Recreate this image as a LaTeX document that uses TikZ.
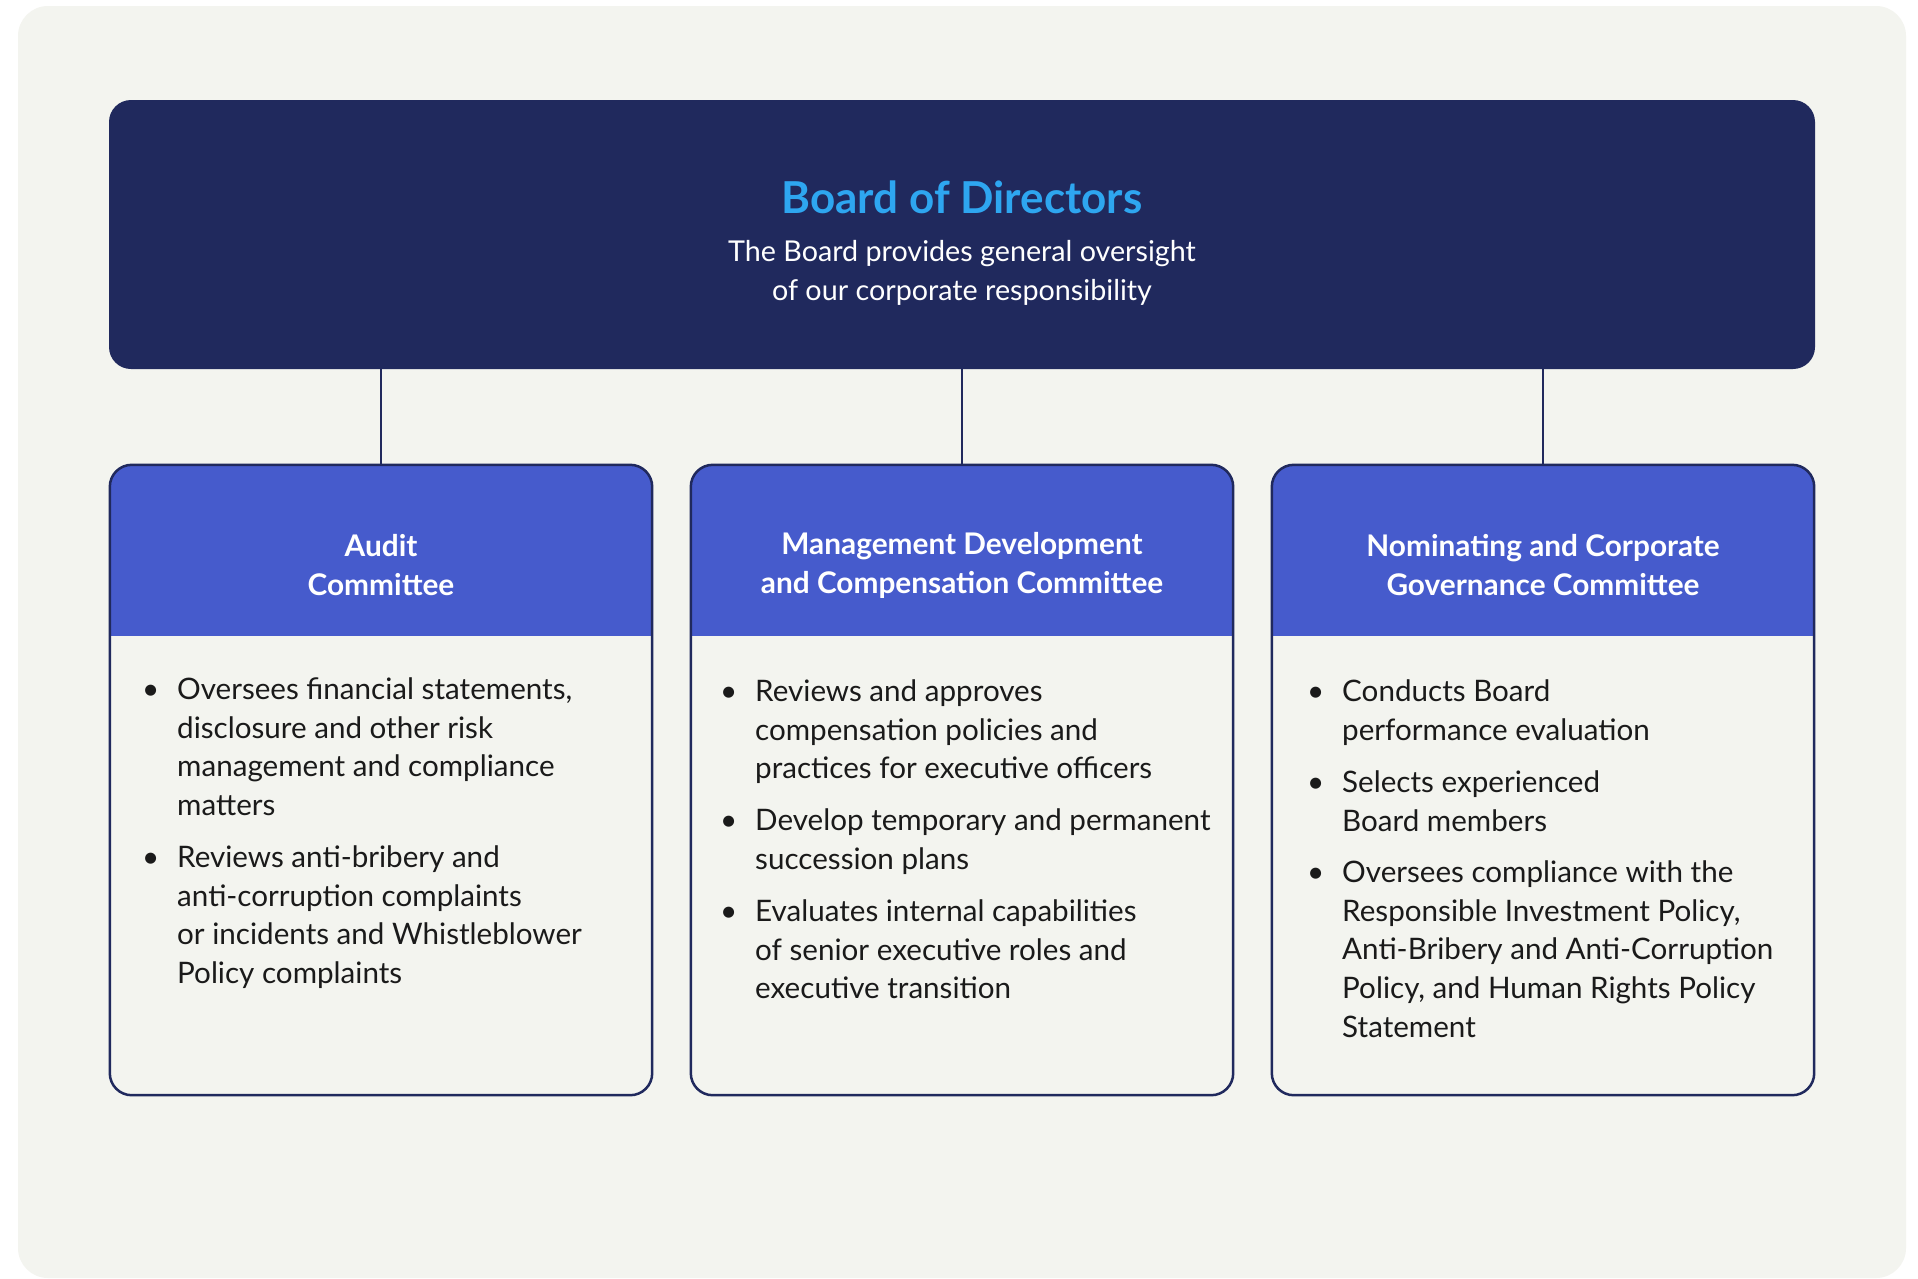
\documentclass[tikz,border=0pt]{standalone}
\usepackage{fontspec}
\setmainfont{Lato}
\usetikzlibrary{calc}
\definecolor{pagebg}{HTML}{F3F4EF}
\definecolor{navy}{HTML}{20295D}
\definecolor{hdrblue}{HTML}{465BCC}
\definecolor{titleblue}{HTML}{2EA6F0}
\definecolor{bodytext}{HTML}{1A1A1A}
\tikzset{
  boardbox/.style={fill=navy, rounded corners=22pt, minimum width=1706pt, minimum height=269pt, inner sep=0pt},
  combox/.style={fill=pagebg, minimum width=542pt, minimum height=630pt, inner sep=0pt},
  comborder/.style={draw=navy, line width=2.5pt, rounded corners=22pt},
  conn/.style={draw=navy, line width=2.5pt},
  titletxt/.style={text=titleblue, font=\fontsize{44}{52}\selectfont\bfseries, inner sep=0pt},
  subtxt/.style={text=white, font=\fontsize{28.7}{39}\selectfont, align=center, inner sep=0pt},
  hdrtxt/.style={text=white, font=\fontsize{29.8}{39}\selectfont\bfseries, align=center, inner sep=0pt},
  itemtxt/.style={text=bodytext, font=\fontsize{29.6}{38.8}\selectfont, align=left, inner sep=0pt, anchor=north west},
}
\newcommand{\bul}{\makebox[0pt][r]{\textbullet\hspace{18pt}}\strut}
\begin{document}
\begin{tikzpicture}[x=1pt,y=-1pt]
\useasboundingbox (0,0) rectangle (1918,1278);
\fill[white] (0,0) rectangle (1918,1278);
\fill[pagebg, rounded corners=30pt] (18,6) rectangle (1906,1278);

% board
\node[boardbox] (board) at (962,234.5) {};
\node[titletxt] (btitle) at (962,197) {Board of Directors};
\node[subtxt] (bsub) at (962,273) {The Board provides general oversight\\of our corporate responsibility};

% committee boxes
\foreach \n/\cx in {c1/381, c2/962, c3/1543}{
  \node[combox] (\n) at (\cx,780) {};
  \begin{scope}
    \clip[rounded corners=22pt] (\n.south west) rectangle (\n.north east);
    \fill[hdrblue] (\n.north west) rectangle ($(\n.north east)+(0,171)$);
  \end{scope}
  \draw[comborder] (\n.south west) rectangle (\n.north east);
  \draw[conn] (board.south -| \n.north) -- (\n.north);
}

% headers
\node[hdrtxt] (h1) at (381,565.5) {Audit\\Committee};
\node[hdrtxt] (h2) at (962,565.5) {Management Development\\and Compensation Committee};
\node[hdrtxt] (h3) at (1543,565.5) {Nominating and Corporate\\Governance Committee};

% items box 1
\node[itemtxt] (a1) at (177,672) {\bul Oversees financial statements,\\disclosure and other risk\\management and compliance\\matters};
\node[itemtxt] (a2) at (177,840) {\bul Reviews anti-bribery and\\anti-corruption complaints\\or incidents and Whistleblower\\Policy complaints};

% items box 2
\node[itemtxt] (b1) at (755,674) {\bul Reviews and approves\\compensation policies and\\practices for executive officers};
\node[itemtxt] (b2) at (755,803) {\bul Develop temporary and permanent\\succession plans};
\node[itemtxt] (b3) at (755,894) {\bul Evaluates internal capabilities\\of senior executive roles and\\executive transition};

% items box 3
\node[itemtxt] (d1) at (1342,674) {\bul Conducts Board\\performance evaluation};
\node[itemtxt] (d2) at (1342,765) {\bul Selects experienced\\Board members};
\node[itemtxt] (d3) at (1342,855) {\bul Oversees compliance with the\\Responsible Investment Policy,\\Anti-Bribery and Anti-Corruption\\Policy, and Human Rights Policy\\Statement};
\end{tikzpicture}
\end{document}
